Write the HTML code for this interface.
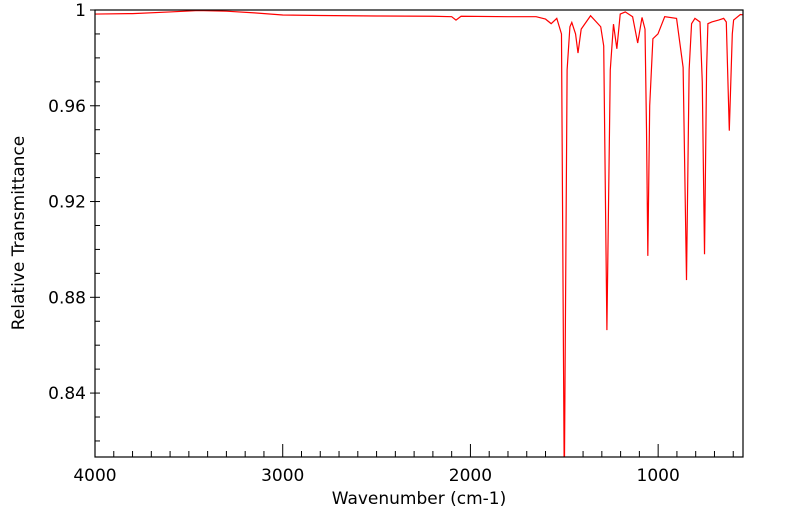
<!DOCTYPE html>
<html><head><meta charset="utf-8"><style>
body{margin:0;background:#fff;}
svg text{font-family:"DejaVu Sans","Liberation Sans",sans-serif;fill:#000;}
</style></head><body>
<svg id="chart" width="799" height="516" xmlns="http://www.w3.org/2000/svg">
<defs><clipPath id="plotclip"><rect x="95" y="10" width="648" height="447"/></clipPath></defs>
<g id="axes"></g>
<path id="series" fill="none" stroke="#ff0000" stroke-width="1.2" clip-path="url(#plotclip)"/>
<rect x="95" y="10" width="648" height="447" fill="none" stroke="#000" stroke-width="1.2"/>
<text x="419" y="504" font-size="17" text-anchor="middle">Wavenumber (cm-1)</text>
<text x="0" y="0" font-size="17" text-anchor="middle" transform="translate(24,233) rotate(-90)">Relative Transmittance</text>
</svg>
<script>
const wavenumbers = [4000,3800,3600,3450,3300,3150,3000,2800,2500,2200,2100,2077,2050,1800,1650,1600,1570,1540,1515,1500,1485,1470,1460,1440,1427,1410,1360,1306,1290,1273,1255,1238,1220,1202,1175,1136,1109,1086,1070,1062,1055,1045,1028,1001,965,902,867,849,835,822,804,777,765,753,742,735,714,678,651,637,621,605,598,562,550];
const transmittance = [0.9983,0.9985,0.9992,0.9998,0.9995,0.9988,0.9979,0.9977,0.9975,0.9974,0.9972,0.9958,0.9974,0.9972,0.9972,0.9962,0.9943,0.9965,0.990,0.800,0.975,0.993,0.9948,0.990,0.982,0.992,0.9976,0.993,0.985,0.8663,0.975,0.9941,0.9838,0.9983,0.9992,0.9972,0.9862,0.9969,0.992,0.950,0.8973,0.960,0.988,0.990,0.9972,0.9965,0.976,0.8872,0.975,0.9943,0.9965,0.9950,0.970,0.898,0.975,0.9943,0.995,0.9958,0.9965,0.995,0.9496,0.990,0.9958,0.9981,0.998];
const xTicks = [4000,3000,2000,1000];
const xTickLabels = ["4000","3000","2000","1000"];
const yTicks = [1,0.96,0.92,0.88,0.84];
const yTickLabels = ["1","0.96","0.92","0.88","0.84"];

const X0=95,X1=743,Y0=10,Y1=457;
const WMAX=4000,WMIN=548,TMAX=1,TMIN=0.8133;
function xs(w){return X0+(WMAX-w)/(WMAX-WMIN)*(X1-X0);}
function ys(t){return Y0+(TMAX-t)/(TMAX-TMIN)*(Y1-Y0);}

let d='';
for(let i=0;i<wavenumbers.length;i++){d+=(i?'L':'M')+xs(wavenumbers[i]).toFixed(2)+','+ys(transmittance[i]).toFixed(2);}
document.getElementById('series').setAttribute('d',d);

const NS='http://www.w3.org/2000/svg';
const axes=document.getElementById('axes');
function line(x1,y1,x2,y2,name){
  const l=document.createElementNS(NS,'line');
  l.setAttribute('x1',x1);l.setAttribute('y1',y1);l.setAttribute('x2',x2);l.setAttribute('y2',y2);
  l.setAttribute('stroke','#000');l.setAttribute('stroke-width','1');
  
  
  axes.appendChild(l);
}
function text(x,y,s,anchor,name){
  const t=document.createElementNS(NS,'text');
  t.setAttribute('x',x);t.setAttribute('y',y);t.setAttribute('font-size','17');t.setAttribute('text-anchor',anchor);
  t.textContent=s;
  
  
  axes.appendChild(t);
}
for(let w=4000;w>=WMIN;w-=100){
  const x=xs(w);
  const major=w%1000===0;
  line(x,Y1,x,Y1-(major?13:6),'x-tick');
}
xTicks.forEach((w,i)=>text(xs(w),481,xTickLabels[i],'middle','x-tick-label'));
for(let k=0;k<=18;k++){
  const t=1-k*0.01;
  if(t<TMIN)break;
  const y=ys(t);
  const major=(k%4===0);
  if(major) line(X0-5,y,X0+5,y,'y-tick'); else line(X0,y,X0+5,y,'y-tick');
}
yTicks.forEach((t,i)=>text(X0-9,ys(t)+6,yTickLabels[i],'end','y-tick-label'));
</script>
</body></html>
